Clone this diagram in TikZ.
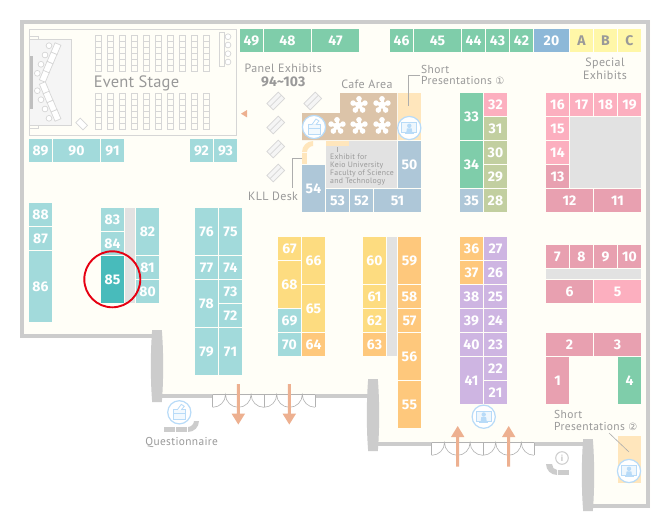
\documentclass[tikz,border=0pt]{standalone}
\usepackage{fontspec}
\setmainfont{PT Sans}[LetterSpace=3]
\newfontfamily\numfont{Fira Sans}[LetterSpace=1]
\newfontfamily\evfont{PT Sans}[LetterSpace=1]
\newfontfamily\djv{DejaVu Sans}
\definecolor{floorc}{HTML}{FFFEF7}
\definecolor{wallc}{HTML}{CCCCCC}
\definecolor{linec}{HTML}{D6D6D6}
\definecolor{teal}{HTML}{A2DADB}
\definecolor{tealdark}{HTML}{48BBBB}
\definecolor{greenb}{HTML}{7FCDAA}
\definecolor{blueb}{HTML}{AEC7D8}
\definecolor{blued}{HTML}{8DB8D8}
\definecolor{yellowl}{HTML}{FFF7A8}
\definecolor{pinkl}{HTML}{FCAFBF}
\definecolor{pinkd}{HTML}{E8A0B0}
\definecolor{olive}{HTML}{C2CFA0}
\definecolor{purpleb}{HTML}{CEB5E2}
\definecolor{orangeb}{HTML}{FEC87C}
\definecolor{yellowb}{HTML}{FDDC80}
\definecolor{grayp}{HTML}{E2E2E2}
\definecolor{tan}{HTML}{DCC4A9}
\definecolor{cream}{HTML}{FFE6BC}
\definecolor{iconb}{HTML}{B8DBF8}
\definecolor{arrowc}{HTML}{EDB090}
\definecolor{labelc}{HTML}{999999}
\definecolor{ringred}{HTML}{E60012}
\tikzset{
  boothbox/.style={inner sep=0pt,outer sep=0pt,text=white,font=\numfont\bfseries\fontsize{14}{15}\selectfont,text depth=0pt},
  lab/.style={inner sep=0pt,text=labelc,font=\fontsize{12}{14}\selectfont,align=center},
  leader/.style={draw=labelc!80,line width=.6pt},
  thin gray/.style={draw=linec,line width=.7pt},
  doorline/.style={draw=black!30,line width=.6pt}
}
\newcommand\Bth[7][white]{\node[boothbox,text=#1,fill=#7,minimum width={(#4-#2)*1pt},minimum height={(#5-#3)*1pt}] (b#6) at ({(#2+#4)/2},{(#3+#5)/2}) {#6};}
\newcommand\Flower[2]{\begin{scope}[shift={(#1,#2)}]
  \foreach \a in {90,162,234,306,18}{\fill[white] ({6.2*cos(\a)},{-6.2*sin(\a)}) circle[radius=2.8];
    \draw[white,line width=3pt] (0,0) -- ({6*cos(\a)},{-6*sin(\a)});}
  \fill[white] (0,0) circle[radius=3.7];
\end{scope}}
\newcommand\MonIcon[2]{\begin{scope}[shift={(#1,#2)}]
  \filldraw[fill=white,draw=iconb,line width=1.2pt] (0,0) circle[radius=11.6];
  \filldraw[fill=iconb!22,draw=iconb,line width=.8pt] (-7.5,-5.5) rectangle (7.5,4.5);
  \fill[iconb] (0,-2.2) circle[radius=2.2];
  \fill[iconb] (-3,4.5) -- (-2.4,0.4) -- (2.4,0.4) -- (3,4.5) -- cycle;
  \fill[iconb] (-4.5,5.2) rectangle (4.5,6.4);
\end{scope}}
\newcommand\VoteIcon[2]{\begin{scope}[shift={(#1,#2)}]
  \filldraw[fill=white,draw=iconb,line width=1.2pt] (0,0) circle[radius=11.6];
  \filldraw[fill=iconb!18,draw=iconb,line width=.8pt] (-6,-2.5) rectangle (6,7);
  \draw[iconb,line width=.8pt] (-6,1) -- (6,1);
  \filldraw[fill=white,draw=iconb,line width=.8pt] (-2,-2.5) -- (2,-8) -- (5,-6) -- (2,-2.5);
\end{scope}}
\newcommand\Doors[2]{\begin{scope}[shift={(#1,#2)}]
  \draw[doorline] (0,0) -- (102.4,0) (0,0) -- (0,12.8) (51.2,0) -- (51.2,12.8) (102.4,0) -- (102.4,12.8);
  \draw[doorline] (0,12.8) .. controls (7.07,12.8) and (12.8,7.07) .. (12.8,0)
     .. controls (12.8,7.07) and (18.53,12.8) .. (25.6,12.8)
     .. controls (32.67,12.8) and (38.4,7.07) .. (38.4,0)
     .. controls (38.4,7.07) and (44.13,12.8) .. (51.2,12.8)
     .. controls (58.27,12.8) and (64,7.07) .. (64,0)
     .. controls (64,7.07) and (69.73,12.8) .. (76.8,12.8)
     .. controls (83.87,12.8) and (89.6,7.07) .. (89.6,0)
     .. controls (89.6,7.07) and (95.33,12.8) .. (102.4,12.8);
\end{scope}}
\newcommand\Pillar[3]{\fill[wallc] ({#1+1.2},#2) -- ({#1+10.8},#2) .. controls ({#1+12.6},{#2+20}) and ({#1+12.6},{#3-20}) .. ({#1+10.8},#3) -- ({#1+1.2},#3) .. controls ({#1-.6},{#3-20}) and ({#1-.6},{#2+20}) .. ({#1+1.2},#2) -- cycle;}
\newcommand\DownArrow[1]{\fill[arrowc] ({#1-1.5},384) -- ({#1+1.5},384) -- ({#1+1.5},413.7) -- ({#1+6.7},413.7) -- (#1,424.5) -- ({#1-6.7},413.7) -- ({#1-1.5},413.7) -- cycle;}
\newcommand\UpArrow[1]{\fill[arrowc] ({#1-1.5},466.7) -- ({#1+1.5},466.7) -- ({#1+1.5},437) -- ({#1+6.7},437) -- (#1,426) -- ({#1-6.7},437) -- ({#1-1.5},437) -- cycle;}
\newcommand\Panel[2]{\begin{scope}[shift={(#1,#2)},rotate=45]
  \filldraw[fill=black!4,thin gray] (-8,-4.5) rectangle (8,4.5);
  \draw[thin gray] (-8,0) -- (8,0);
\end{scope}}
\newcommand\SeatTable[3]{\begin{scope}[shift={(#1,#2)},rotate=#3]
  \filldraw[fill=white,thin gray] (-5.1,-3.2) rectangle (5.1,3.2);
\end{scope}}
\begin{document}
\begin{tikzpicture}[x=1pt,y=-1pt]
\useasboundingbox (0,0) rectangle (670,520);
\fill[white] (0,0) rectangle (670,520);
% floor
\fill[floorc] (20,20) -- (650,20) -- (650,508) -- (588,508) -- (588,443) -- (373,443) -- (373,395) -- (157,395) -- (157,338) -- (20,338) -- cycle;
% walls
\fill[wallc] (20,20) rectangle (650,24);
\fill[wallc] (20,20) rectangle (24,338);
\fill[wallc] (646,20) rectangle (650,508);
\fill[wallc] (20,334) rectangle (155,338);
\fill[wallc] (160,394) rectangle (212.7,398);
\fill[wallc] (315.1,394) rectangle (370,398);
\fill[wallc] (376,442) rectangle (431.7,446);
\fill[wallc] (534.1,442) rectangle (585,446);
\fill[wallc] (590,504) rectangle (650,508);
\Pillar{151}{330}{402}
\Pillar{367}{379}{451}
\Pillar{582}{439}{511}
\Doors{212.7}{394.5}
\Doors{431.7}{442.5}
% event stage
\draw[thin gray] (29.4,29.4) rectangle (236.6,135.2);
\draw[thin gray] (29.4,36.4) rectangle (38.6,39.4) (29.4,125) rectangle (38.6,128.2);
\filldraw[fill=black!4,thin gray] (29.4,39.4) rectangle (71.6,125.2);
\fill[black!25] (30,56) rectangle (33,109);
\foreach \c/\t in {49/45.7,45/55,41/64.3,37.3/73.3}{
  \filldraw[fill=white,thin gray] (\c,\t) circle[radius=2.9];
  \filldraw[fill=white,thin gray] (\c,{164-\t}) circle[radius=2.9];
}
\SeatTable{56}{48.7}{67}\SeatTable{52}{58}{67}\SeatTable{48}{67.3}{67}\SeatTable{44.3}{76.3}{67}
\SeatTable{56}{115.3}{-67}\SeatTable{52}{106}{-67}\SeatTable{48}{96.7}{-67}\SeatTable{44.3}{87.7}{-67}
\SeatTable{81.7}{124}{-45}
\foreach \i in {0,...,9}{\foreach \j in {0,...,5}{
  \draw[thin gray] ({95.4+12*\i},{35.4+6*\j}) rectangle ++(6,6);
  \draw[thin gray] ({95.4+12*\i},{93.4+6*\j}) rectangle ++(6,6);
}}
\draw[thin gray] (219.4,32.4) rectangle (224.6,66.4);
\foreach \t in {36.7,45,53.7,62}{\filldraw[fill=white,thin gray] (228,\t) circle[radius=2.9];}
\node[lab,font=\evfont\fontsize{16.5}{17}\selectfont] (estage) at (136.5,83) {Event Stage};
% cafe
\fill[tan] (340,93) -- (397,93) -- (397,140) -- (302,140) -- (302,113) -- (340,113) -- cycle;
\Flower{359}{105}\Flower{382}{105}\Flower{337}{126}\Flower{359}{126}\Flower{382}{126}
\fill[cream] (398,93) rectangle (421,140);
\fill[grayp] (326,141) rectangle (397,188);
\fill[cream] (326,141) rectangle (349,146);
\fill[cream] (302,153) rectangle (307,164);
\fill[cream] (302,152) .. controls (302,146) and (307,141) .. (313,141) -- (313,146) .. controls (310,146) and (307,149) .. (307,152) -- cycle;
\VoteIcon{314}{127}
\MonIcon{409.3}{128}
\Panel{275.7}{101}\Panel{312.7}{101}\Panel{275.7}{125}\Panel{275.7}{149}\Panel{275.7}{173}
\fill[arrowc] (247,110) -- (247,117.4) -- (241,113.7) -- cycle;
% top row
\Bth{240}{29}{263}{52}{49}{greenb}
\Bth{264}{29}{311}{52}{48}{greenb}
\Bth{312}{29}{359}{52}{47}{greenb}
\Bth{390}{29}{413}{52}{46}{greenb}
\Bth{414}{29}{461}{52}{45}{greenb}
\Bth{462}{29}{485}{52}{44}{greenb}
\Bth{486}{29}{509}{52}{43}{greenb}
\Bth{510}{29}{533}{52}{42}{greenb}
\Bth{534}{29}{569}{52}{20}{blued}
\Bth[labelc]{570}{29}{593}{52}{A}{yellowl}
\Bth[labelc]{594}{29}{617}{52}{B}{yellowl}
\Bth[labelc]{618}{29}{641}{52}{C}{yellowl}
% 89-93
\Bth{29}{139}{52}{162}{89}{teal}
\Bth{53}{139}{100}{162}{90}{teal}
\Bth{101}{139}{124}{162}{91}{teal}
\Bth{190}{139}{213}{162}{92}{teal}
\Bth{214}{139}{237}{162}{93}{teal}
% kll block
\Bth{398}{141}{421}{188}{50}{blueb}
\Bth{302}{165}{325}{212}{54}{blueb}
\Bth{326}{189}{349}{212}{53}{blueb}
\Bth{350}{189}{373}{212}{52}{blueb}
\Bth{374}{189}{421}{212}{51}{blueb}
% 28-35
\Bth{460}{93}{483}{140}{33}{greenb}
\Bth{460}{141}{483}{188}{34}{greenb}
\Bth{460}{189}{483}{212}{35}{blueb}
\Bth{484}{93}{507}{116}{32}{pinkl}
\Bth{484}{117}{507}{140}{31}{olive}
\Bth{484}{141}{507}{164}{30}{olive}
\Bth{484}{165}{507}{188}{29}{olive}
\Bth{484}{189}{507}{212}{28}{olive}
% 11-19
\Bth{546}{93}{569}{116}{16}{pinkl}
\Bth{570}{93}{593}{116}{17}{pinkl}
\Bth{594}{93}{617}{116}{18}{pinkl}
\Bth{618}{93}{641}{116}{19}{pinkl}
\Bth{546}{117}{569}{140}{15}{pinkl}
\Bth{546}{141}{569}{164}{14}{pinkl}
\Bth{546}{165}{569}{188}{13}{pinkd}
\fill[grayp] (570,117) rectangle (641,188);
\Bth{546}{189}{593}{212}{12}{pinkd}
\Bth{594}{189}{641}{212}{11}{pinkd}
% 1-10
\Bth{546}{245}{569}{268}{7}{pinkd}
\Bth{570}{245}{593}{268}{8}{pinkd}
\Bth{594}{245}{617}{268}{9}{pinkd}
\Bth{618}{245}{641}{268}{10}{pinkd}
\fill[grayp] (546,269) rectangle (641,279);
\Bth{546}{280}{593}{303}{6}{pinkd}
\Bth{594}{280}{641}{303}{5}{pinkl}
\Bth{546}{333}{593}{356}{2}{pinkd}
\Bth{594}{333}{641}{356}{3}{pinkd}
\Bth{546}{357}{569}{404}{1}{pinkd}
\Bth{618}{357}{641}{404}{4}{greenb}
% left
\Bth{29}{203}{52}{226}{88}{teal}
\Bth{29}{227}{52}{250}{87}{teal}
\Bth{29}{251}{52}{322}{86}{teal}
\Bth{101}{208}{124}{231}{83}{teal}
\Bth{101}{232}{124}{255}{84}{teal}
\Bth{101}{256}{124}{303}{85}{tealdark}
\fill[grayp] (125,208) rectangle (135,303);
\Bth{136}{208}{159}{255}{82}{teal}
\Bth{136}{256}{159}{279}{81}{teal}
\Bth{136}{280}{159}{303}{80}{teal}
\Bth{195}{208}{218}{255}{76}{teal}
\Bth{195}{256}{218}{279}{77}{teal}
\Bth{195}{280}{218}{327}{78}{teal}
\Bth{195}{328}{218}{375}{79}{teal}
\Bth{219}{208}{242}{255}{75}{teal}
\Bth{219}{256}{242}{279}{74}{teal}
\Bth{219}{280}{242}{303}{73}{teal}
\Bth{219}{304}{242}{327}{72}{teal}
\Bth{219}{328}{242}{375}{71}{teal}
% middle
\Bth{278}{237}{301}{260}{67}{yellowb}
\Bth{278}{261}{301}{308}{68}{yellowb}
\Bth{278}{309}{301}{332}{69}{teal}
\Bth{278}{333}{301}{356}{70}{teal}
\Bth{302}{237}{325}{284}{66}{yellowb}
\Bth{302}{285}{325}{332}{65}{yellowb}
\Bth{302}{333}{325}{356}{64}{orangeb}
\Bth{363}{237}{386}{284}{60}{yellowb}
\Bth{363}{285}{386}{308}{61}{yellowb}
\Bth{363}{309}{386}{332}{62}{yellowb}
\Bth{363}{333}{386}{356}{63}{orangeb}
\fill[grayp] (387,237) rectangle (397,356);
\Bth{398}{237}{421}{284}{59}{orangeb}
\Bth{398}{285}{421}{308}{58}{orangeb}
\Bth{398}{309}{421}{332}{57}{orangeb}
\Bth{398}{333}{421}{380}{56}{orangeb}
\Bth{398}{381}{421}{428}{55}{orangeb}
\Bth{460}{237}{483}{260}{36}{orangeb}
\Bth{460}{261}{483}{284}{37}{orangeb}
\Bth{460}{285}{483}{308}{38}{purpleb}
\Bth{460}{309}{483}{332}{39}{purpleb}
\Bth{460}{333}{483}{356}{40}{purpleb}
\Bth{460}{357}{483}{404}{41}{purpleb}
\Bth{484}{237}{507}{260}{27}{purpleb}
\Bth{484}{261}{507}{284}{26}{purpleb}
\Bth{484}{285}{507}{308}{25}{purpleb}
\Bth{484}{309}{507}{332}{24}{purpleb}
\Bth{484}{333}{507}{356}{23}{purpleb}
\Bth{484}{357}{507}{380}{22}{purpleb}
\Bth{484}{381}{507}{404}{21}{purpleb}
% arrows
\DownArrow{238.3}\DownArrow{289.3}
\UpArrow{457.7}\UpArrow{508.7}
\MonIcon{483.7}{416.7}
% questionnaire
\VoteIcon{179.3}{412.3}
\fill[wallc] (164,427) rectangle (175,432);
\fill[wallc] (176,427) rectangle (187,432);
\fill[wallc] (188,432) .. controls (194,432) and (199,427) .. (199,421) -- (194,421) .. controls (194,424) and (191,427) .. (188,427) -- cycle;
\node[lab,font=\fontsize{11.4}{14}\selectfont] (quest) at (181.7,442.8) {Questionnaire};
% info
\coordinate (infoc) at (562,458);
\filldraw[fill=white,draw=wallc,line width=1pt] (infoc) circle[radius=6.3];
\node[inner sep=0pt,text=labelc,font=\fontsize{9}{9}\selectfont] (infoi) at (infoc) {i};
\fill[wallc] (546,464) .. controls (546,470) and (551,475) .. (557,475) -- (557,470) .. controls (554,470) and (552,467) .. (552,464) -- cycle;
\fill[wallc] (558,470) rectangle (569,475);
% short 2
\fill[cream] (618,436) rectangle (641,483);
\MonIcon{629}{471}
\coordinate (sp2a) at (609,433);
\coordinate (sp2b) at (629,452);
\draw[leader] (sp2a) -- (sp2b);
% labels and leaders
\node[lab] (panel) at (283.3,68) {Panel Exhibits};
\node[lab,font=\numfont\bfseries\fontsize{14}{15}\selectfont] (panelno) at (283.3,82) {94\string~103};
\node[lab] (cafe) at (367,84) {Cafe Area};
\node[lab,align=left,anchor=west,font=\fontsize{11.5}{11.5}\selectfont] (sp1) at (421,75) {Short\\Presentations {\djv\fontsize{10}{10}\selectfont ①}};
\coordinate (sp1b) at (408.7,75.7);
\coordinate (sp1c) at (408.7,106);
\draw[leader] (420,75.7) -- (sp1b) -- (sp1c);
\node[lab,align=left,anchor=west,font=\fontsize{11.5}{11.5}\selectfont] (sp2) at (554,420.5) {Short\\Presentations {\djv\fontsize{10}{10}\selectfont ②}};
\node[lab] (special) at (605,69) {Special\\[-1.5pt]Exhibits};
\node[lab,anchor=center] (kll) at (273,196) {KLL Desk};
\coordinate (kllb) at (292.3,158);
\coordinate (kllc) at (292.3,188);
\draw[leader] (302,158) -- (kllb) -- (kllc);
\draw[leader] (337.3,147) -- (337.3,152);
\node[lab,align=left,anchor=north west,font=\fontsize{7.8}{8}\selectfont] (keio) at (330,153.5) {Exhibit for\\Keio University\\Faculty of Science\\and Technology};
% highlight
\draw[ringred,line width=1.9pt] (112.3,279.3) circle[radius=28];
\end{tikzpicture}
\end{document}
